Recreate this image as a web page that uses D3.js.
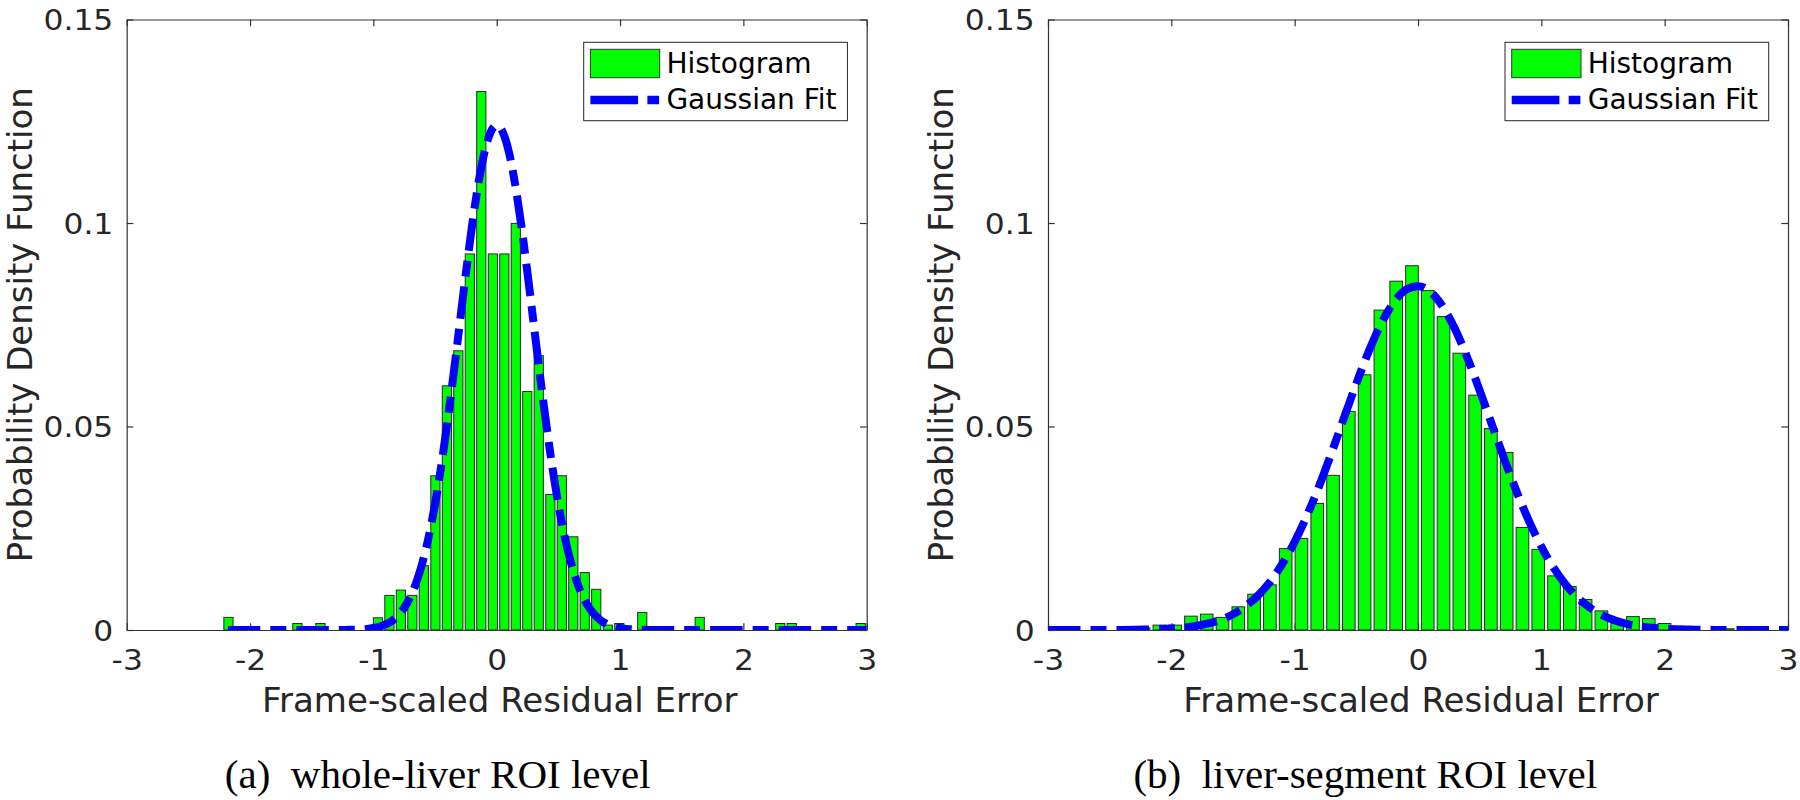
<!DOCTYPE html>
<html><head><meta charset="utf-8">
<script src="https://cdn.jsdelivr.net/npm/d3@7"></script>
<style>body{margin:0;background:#fff}svg{display:block}</style>
</head><body><svg id="c" width="1800" height="800"></svg>
<script>
// ---------- data ----------
const xTicks = [-3, -2, -1, 0, 1, 2, 3];
const xTickLabels = ["-3", "-2", "-1", "0", "1", "2", "3"];
const yTicks = [0, 0.05, 0.1, 0.15];
const yTickLabels = ["0", "0.05", "0.1", "0.15"];
const xLabel = "Frame-scaled Residual Error";
const yLabel = "Probability Density Function";
const legendLabels = ["Histogram", "Gaussian Fit"];
const captionTags = ["(a)", "(b)"];
const captionTexts = ["whole-liver ROI level", "liver-segment ROI level"];

// (a) whole-liver ROI level
const leftBinWidth = 0.0932;
const leftBinCenters = [-2.175,-2.082,-1.989,-1.895,-1.802,-1.709,-1.616,-1.523,-1.429,-1.336,
  -1.243,-1.150,-1.057,-0.963,-0.870,-0.777,-0.684,-0.591,-0.497,-0.404,
  -0.311,-0.218,-0.125,-0.031,0.062,0.155,0.248,0.341,0.435,0.528,
  0.621,0.714,0.807,0.901,0.994,1.087,1.180,1.273,1.367,1.460,
  1.553,1.646,1.739,1.833,1.926,2.019,2.112,2.205,2.299,2.392,
  2.485,2.578,2.671,2.765,2.858,2.951];
const leftBinHeights = [0.0031,0,0,0,0,0,0.0016,0,0.0016,0,
  0,0,0,0.0030,0.0085,0.0098,0.0085,0.0158,0.0379,0.0600,
  0.0686,0.0924,0.1323,0.0924,0.0924,0.0999,0.0586,0.0674,0.0333,0.0379,
  0.0229,0.0141,0.0100,0.0012,0.0016,0,0.0043,0,0,0,
  0,0.0031,0,0,0,0,0,0,0.0016,0.0016,
  0,0,0,0,0,0.0016];
const leftFitX = [-2.18,-1.6,-1.3,-1.25,-1.2,-1.15,-1.1,-1.05,-1.0,-0.95,-0.9,-0.85,-0.8,-0.75,-0.7,-0.65,-0.6,-0.55,-0.5,-0.45,-0.4,-0.35,-0.3,-0.25,-0.2,-0.15,-0.1,-0.05,
  0,0.05,0.1,0.15,0.2,0.25,0.3,0.35,0.4,0.45,0.5,0.55,0.6,0.65,0.7,0.75,0.8,0.85,0.9,0.95,1.0,1.05,1.1,1.15,1.2,1.25,1.3,1.6,2.0,2.5,3.0];
const leftFitY = [0,0,0.00001,0.00002,0.00004,0.00008,0.00015,0.00027,0.00048,0.00082,0.00138,0.00224,0.00354,0.00545,0.00815,0.01186,0.01678,0.02309,0.03092,0.04026,0.05098,0.06278,0.07521,0.08762,0.09929,0.10943,0.11730,0.12229,
  0.12400,0.12229,0.11730,0.10943,0.09929,0.08762,0.07521,0.06278,0.05098,0.04026,0.03092,0.02309,0.01678,0.01186,0.00815,0.00545,0.00354,0.00224,0.00138,0.00082,0.00048,0.00027,0.00015,0.00008,0.00004,0.00002,0.00001,0,0,0,0];

// (b) liver-segment ROI level
const rightBinWidth = 0.128;
const rightBinCenters = [-2.225,-2.097,-1.969,-1.841,-1.713,-1.585,-1.457,-1.329,-1.201,-1.073,
  -0.945,-0.817,-0.689,-0.561,-0.433,-0.305,-0.177,-0.049,0.079,0.207,
  0.335,0.463,0.591,0.719,0.847,0.975,1.103,1.231,1.359,1.487,
  1.615,1.743,1.871,1.999,2.127,2.255,2.383,2.511];
const rightBinHeights = [0.0005,0.0012,0.0012,0.0034,0.0039,0.0031,0.0057,0.0088,0.0111,0.0200,
  0.0225,0.0311,0.0380,0.0537,0.0627,0.0786,0.0857,0.0895,0.0834,0.0770,
  0.0680,0.0577,0.0495,0.0436,0.0252,0.0198,0.0133,0.0107,0.0075,0.0047,
  0.0025,0.0033,0.0028,0.0016,0.0005,0,0,0.0003];
const rightFitX = [-3.0,-2.9,-2.8,-2.7,-2.6,-2.5,-2.4,-2.3,-2.2,-2.1,-2.0,-1.9,-1.8,-1.7,-1.6,-1.5,-1.4,-1.3,-1.2,-1.1,-1.0,-0.9,-0.8,-0.7,-0.6,-0.5,-0.4,-0.3,-0.2,-0.1,
  0.0,0.1,0.2,0.3,0.4,0.5,0.6,0.7,0.8,0.9,1.0,1.1,1.2,1.3,1.4,1.5,1.6,1.7,1.8,1.9,2.0,2.1,2.2,2.3,2.4,2.5,2.6,2.7,2.8,2.9,3.0];
const rightFitY = [0,0,0,0.000003,0.000007,0.000015,0.00003,0.00006,0.00011,0.00020,0.00035,0.00059,0.00099,0.00160,0.00252,0.00387,0.00578,0.00838,0.01182,0.01623,0.02166,0.02813,0.03552,0.04362,0.05211,0.06054,0.06841,0.07519,0.08037,0.08355,
  0.08449,0.08309,0.07948,0.07394,0.06691,0.05888,0.05040,0.04196,0.03397,0.02675,0.02049,0.01527,0.01106,0.00779,0.00534,0.00356,0.00231,0.00146,0.00089,0.00053,0.00031,0.00017,0.00010,0.00005,0.00003,0.00001,0,0,0,0,0];

// ---------- layout / style ----------
const panels = [
  {x0: 126.7, x1: 866.7, centers: leftBinCenters, heights: leftBinHeights, bw: leftBinWidth,
   fx: leftFitX, fy: leftFitY, capX: 224.8},
  {x0: 1048, x1: 1788, centers: rightBinCenters, heights: rightBinHeights, bw: rightBinWidth,
   fx: rightFitX, fy: rightFitY, capX: 1133.4}
];
const yTop = 19.5, yBot = 630;
const axisColor = "#333";
const textColor = "#262626";
const sans = "'DejaVu Sans', sans-serif";
const tickFont = 28, tickStretch = 1.12;
const dashPlot = "32.5,10,16,10";

const svg = d3.select("#c");
svg.append("rect").attr("width", 1800).attr("height", 800).attr("fill", "#fff");

panels.forEach((p, pi) => {
  const x = d3.scaleLinear().domain([-3, 3]).range([p.x0, p.x1]);
  const y = d3.scaleLinear().domain([0, 0.15]).range([yBot, yTop]);
  const g = svg.append("g");

  const clipId = "clip" + pi;
  svg.append("clipPath").attr("id", clipId).append("rect")
    .attr("x", p.x0).attr("y", yTop).attr("width", p.x1 - p.x0).attr("height", yBot - yTop);

  // axes (box with inward ticks)
  const tickLen = 6.7;
  const ax = [
    g.append("g").attr("transform", `translate(0,${yBot})`)
      .call(d3.axisBottom(x).tickValues(xTicks).tickSizeInner(-tickLen).tickSizeOuter(0)
        .tickFormat((d, i) => xTickLabels[i])),
    g.append("g").attr("transform", `translate(0,${yTop})`)
      .call(d3.axisTop(x).tickValues(xTicks).tickSizeInner(-tickLen).tickSizeOuter(0).tickFormat("")),
    g.append("g").attr("transform", `translate(${p.x0},0)`)
      .call(d3.axisLeft(y).tickValues(yTicks).tickSizeInner(-tickLen).tickSizeOuter(0)
        .tickFormat((d, i) => yTickLabels[i])),
    g.append("g").attr("transform", `translate(${p.x1},0)`)
      .call(d3.axisRight(y).tickValues(yTicks).tickSizeInner(-tickLen).tickSizeOuter(0).tickFormat(""))
  ];
  ax.forEach(a => {
    a.select(".domain").attr("stroke", axisColor).attr("stroke-width", 1.2);
    a.selectAll(".tick line").attr("stroke", axisColor).attr("stroke-width", 1.2);
  });
  ax[0].selectAll(".tick text")
    .attr("y", 40.5).attr("dy", 0)
    .attr("font-family", sans).attr("font-size", tickFont).attr("fill", textColor)
    .attr("transform", `scale(${tickStretch},1)`);
  ax[2].selectAll(".tick text")
    .attr("x", -13.4 / tickStretch).attr("dy", "0.36em")
    .attr("font-family", sans).attr("font-size", tickFont).attr("fill", textColor)
    .attr("transform", `scale(${tickStretch},1)`);

  // bars
  const bars = p.centers.map((c, i) => ({c, h: p.heights[i]})).filter(d => d.h > 0);
  g.append("g").attr("clip-path", `url(#${clipId})`)
    .selectAll("rect").data(bars).join("rect")
    .attr("x", d => x(d.c - p.bw * 0.4))
    .attr("width", d => x(d.c + p.bw * 0.4) - x(d.c - p.bw * 0.4))
    .attr("y", d => y(d.h))
    .attr("height", d => y(0) - y(d.h))
    .attr("fill", "#00ff00")
    .attr("stroke", "#2a2a2a")
    .attr("stroke-width", 1);

  // gaussian fit
  const pts = p.fx.map((v, i) => [v, p.fy[i]]);
  g.append("path").attr("clip-path", `url(#${clipId})`)
    .datum(pts)
    .attr("d", d3.line().x(d => x(d[0])).y(d => y(d[1])).curve(d3.curveMonotoneX))
    .attr("fill", "none").attr("stroke", "#0000ff").attr("stroke-width", 8)
    .attr("stroke-dasharray", dashPlot).attr("stroke-linecap", "butt");

  // axis labels
  g.append("text").attr("x", (p.x0 + p.x1) / 2 + 3).attr("y", 711.7)
    .attr("text-anchor", "middle").attr("font-family", sans).attr("font-size", 34)
    .attr("fill", textColor).text(xLabel);
  g.append("text").attr("transform", `translate(${p.x0 - 95.2},${(yTop + yBot) / 2}) rotate(-90)`)
    .attr("text-anchor", "middle").attr("font-family", sans).attr("font-size", 34)
    .attr("fill", textColor).text(yLabel);

  // legend
  const lx = p.x1 - 283, ly = 42.3;
  const lg = g.append("g").attr("transform", `translate(${lx},${ly})`);
  lg.append("rect").attr("width", 263.7).attr("height", 78.4)
    .attr("fill", "#fff").attr("stroke", "#262626").attr("stroke-width", 1);
  lg.append("rect").attr("x", 6.7).attr("y", 7).attr("width", 69.3).attr("height", 28.4)
    .attr("fill", "#00ff00").attr("stroke", "#333").attr("stroke-width", 1);
  lg.append("line").attr("x1", 6.7).attr("x2", 75.4).attr("y1", 57.7).attr("y2", 57.7)
    .attr("stroke", "#0000ff").attr("stroke-width", 8.5)
    .attr("stroke-dasharray", "47.7,9.3,11.7,100");
  lg.selectAll("text.leg").data(legendLabels).join("text")
    .attr("x", 82.7).attr("y", (d, i) => i === 0 ? 31 : 67)
    .attr("font-family", sans).attr("font-size", 28).attr("fill", "#000").text(d => d);

  // caption
  const cap = g.append("text").attr("x", p.capX).attr("y", 788)
    .attr("font-family", "'Liberation Serif', 'Times New Roman', serif").attr("font-size", 41)
    .attr("fill", "#000").style("white-space", "pre");
  cap.append("tspan").text(captionTags[pi]);
  cap.append("tspan").text("  " + captionTexts[pi]);
});
</script></body></html>
